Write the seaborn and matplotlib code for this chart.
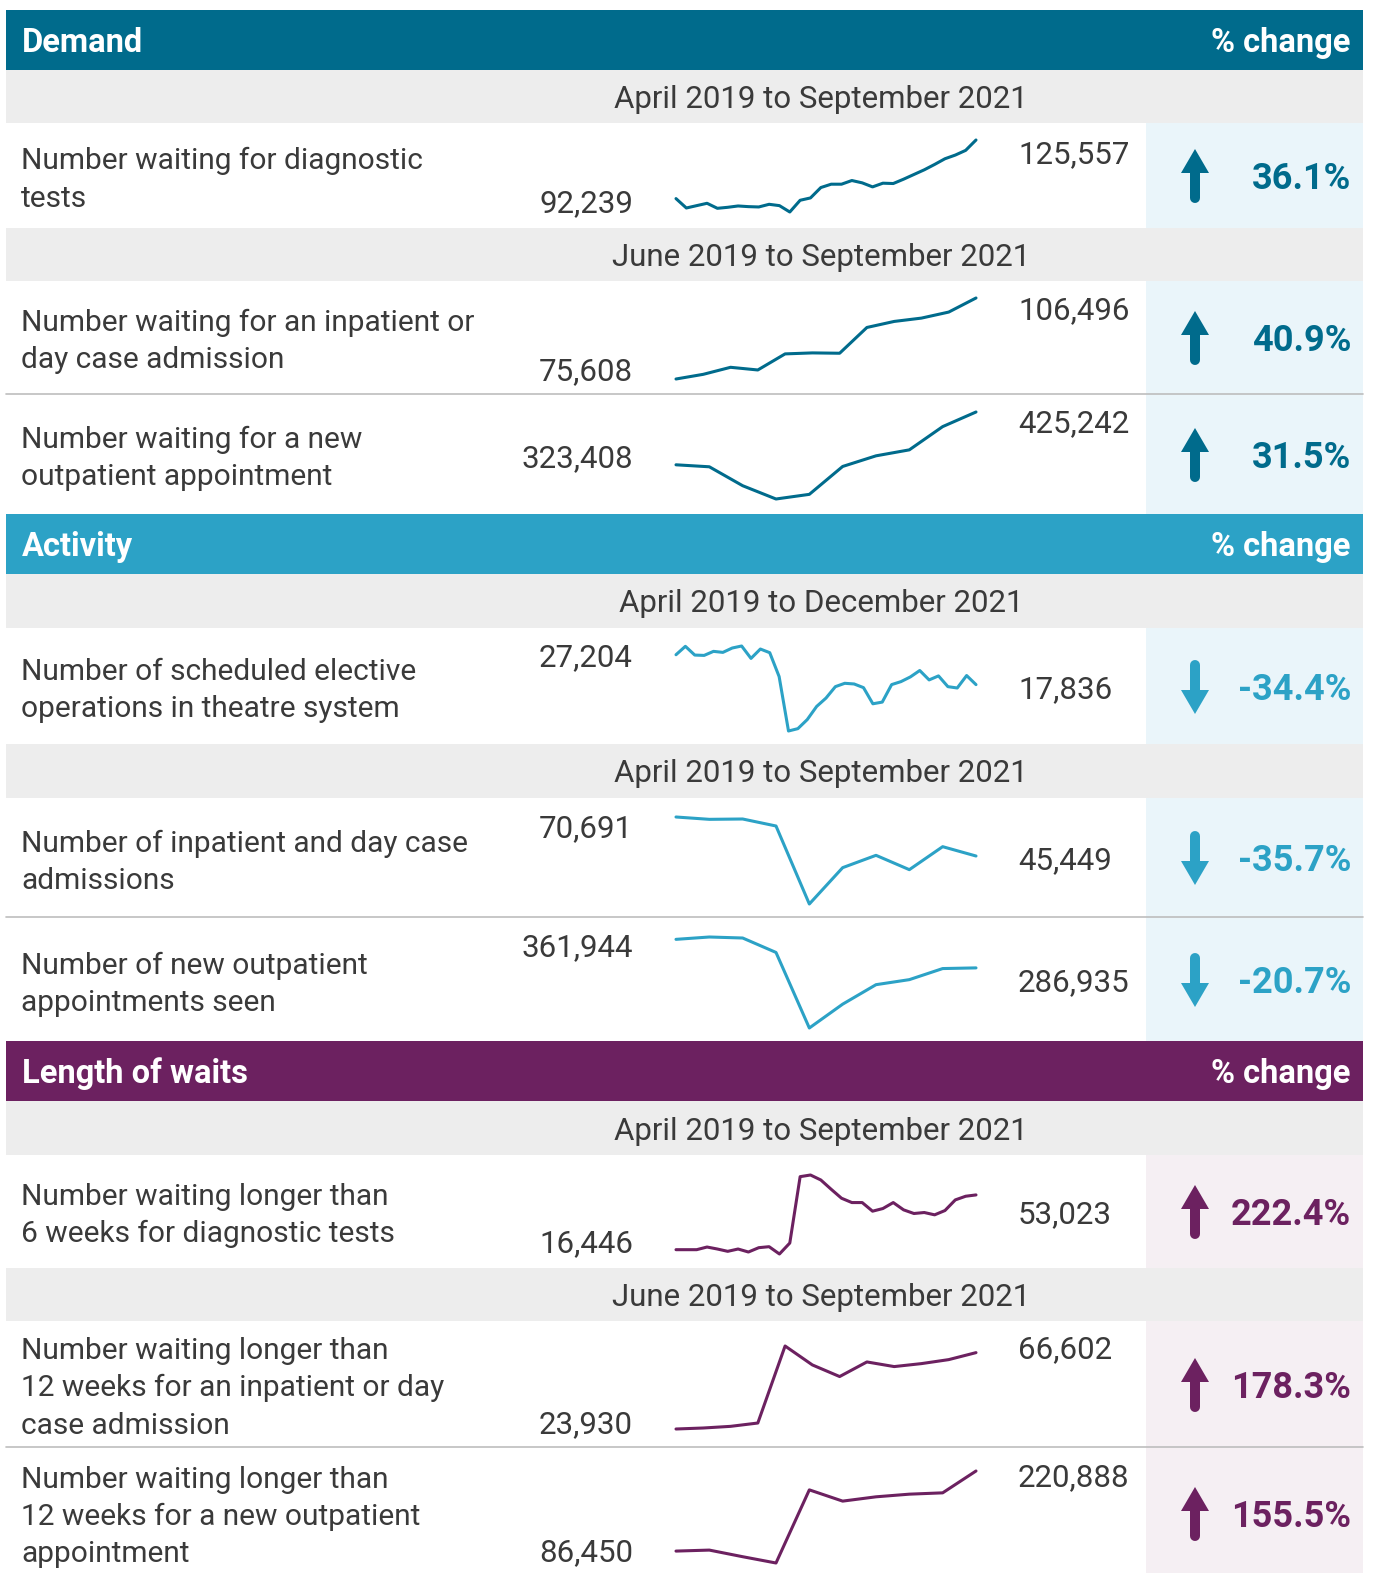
import matplotlib
matplotlib.use("Agg")
import matplotlib.pyplot as plt
import seaborn as sns
import numpy as np
import pandas as pd
from matplotlib.patches import Rectangle, Polygon

# ---------------- DATA ----------------
sections = ["Demand", "Activity", "Length of waits"]
change_header = "% change"
periods = ["April 2019 to September 2021", "June 2019 to September 2021",
           "April 2019 to December 2021", "April 2019 to September 2021",
           "April 2019 to September 2021", "June 2019 to September 2021"]

row_labels = [
    ["Number waiting for diagnostic", "tests"],
    ["Number waiting for an inpatient or", "day case admission"],
    ["Number waiting for a new", "outpatient appointment"],
    ["Number of scheduled elective", "operations in theatre system"],
    ["Number of inpatient and day case", "admissions"],
    ["Number of new outpatient", "appointments seen"],
    ["Number waiting longer than", "6 weeks for diagnostic tests"],
    ["Number waiting longer than", "12 weeks for an inpatient or day", "case admission"],
    ["Number waiting longer than", "12 weeks for a new outpatient", "appointment"],
]
pct_change = [36.1, 40.9, 31.5, -34.4, -35.7, -20.7, 222.4, 178.3, 155.5]

diag_wait = [92239, 86900, 88240, 89570, 86720, 87290, 88050, 87670, 87480, 89000,
             88240, 84620, 91290, 92620, 98520, 100430, 100430, 102520, 101190, 98900,
             101000, 100810, 103280, 105950, 108610, 111660, 114900, 116990, 119660, 125557]
inpatient_wait = [75608, 77390, 80070, 79050, 85180, 85560, 85430, 95260, 97560, 98830,
                  101130, 106496]
outpatient_wait = [323408, 319570, 283060, 257440, 266410, 320210, 340700, 352230,
                   397060, 425242]
elective_ops = [27204, 29840, 27100, 26990, 28260, 27940, 29310, 29940, 26050, 28990,
                27840, 20360, 3300, 4040, 6880, 10990, 13620, 17200, 18250, 18040,
                16890, 11830, 12360, 17840, 18780, 20250, 22260, 19310, 20570, 17200,
                16780, 20680, 17836]
inpatient_adm = [70691, 69180, 69400, 64870, 14390, 37910, 45890, 36610, 51490, 45449]
outpatient_seen = [361944, 368120, 365470, 327530, 128960, 191620, 242810, 256050,
                   285170, 286935]
diag_6wk = [16446, 16446, 16446, 18220, 16890, 15340, 16890, 14890, 17780, 18440,
            13560, 20880, 65220, 66330, 63000, 56790, 50810, 47920, 47920, 42160,
            43930, 47920, 43050, 40610, 41270, 39720, 42600, 49700, 52140, 53023]
inpatient_12wk = [23930, 24490, 25410, 27270, 70310, 59730, 53240, 61400, 58810, 60470,
                  62700, 66602]
outpatient_12wk = [86450, 88120, 77010, 66450, 189220, 170330, 177550, 182000, 184220,
                   220888]

series = [diag_wait, inpatient_wait, outpatient_wait, elective_ops, inpatient_adm,
          outpatient_seen, diag_6wk, inpatient_12wk, outpatient_12wk]

# ---------------- STYLE ----------------
sns.set_theme(style="white")
plt.rcParams['font.family'] = ['Roboto', 'DejaVu Sans']

W, H = 1373, 1573
C_DEMAND = "#006B8C"
C_ACT = "#2CA2C6"
C_WAIT = "#6C2160"
BOX = ["#EAF5FA", "#EAF5FA", "#F5EFF3"]
GREY = "#EDEDED"
TXT = "#3A3A3A"
SEP = "#BDBDBD"
sec_colors = [C_DEMAND, C_ACT, C_WAIT]

fig = plt.figure(figsize=(W / 100, H / 100), dpi=100)
bg = fig.add_axes([0, 0, 1, 1])
bg.set_xlim(0, W)
bg.set_ylim(H, 0)
bg.axis("off")

L, R = 6, 1363
BOXL = 1146

# section headers (y0, y1)
headers = [(10, 70), (514, 574), (1041, 1101)]
for i, (y0, y1) in enumerate(headers):
    bg.add_patch(Rectangle((L, y0), R - L, y1 - y0, color=sec_colors[i], lw=0))
    bg.text(22, (y0 + y1) / 2 + 3, sections[i], color="white", fontsize=23.5,
            fontweight="bold", va="center", ha="left")
    bg.text(1350, (y0 + y1) / 2 + 3, change_header, color="white", fontsize=23.5,
            fontweight="bold", va="center", ha="right")

# period sub-headers
subs = [(70, 123), (228, 281), (574, 628), (744, 798), (1101, 1155), (1268, 1321)]
for i, (y0, y1) in enumerate(subs):
    bg.add_patch(Rectangle((L, y0), R - L, y1 - y0, color=GREY, lw=0))
    bg.text(821, (y0 + y1) / 2 + 3, periods[i], color=TXT, fontsize=22.5,
            va="center", ha="center")

# rows: (y0, y1, section)
rows = [(123, 228, 0), (281, 394, 0), (394, 514, 0),
        (628, 744, 1), (798, 917, 1), (917, 1041, 1),
        (1155, 1268, 2), (1321, 1447, 2), (1447, 1573, 2)]
label_y = [[158, 196], [320, 357], [437, 474], [669, 706], [841, 878], [963, 1000],
           [1194, 1231], [1348, 1385, 1423], [1477, 1514, 1551]]
spark_box = [(140, 212), (298, 379), (412, 499), (646, 731), (817, 904), (937, 1028),
             (1175, 1254), (1346, 1429), (1471, 1563)]
start_y = [201, 369, 456, 655, 826, 945, 1241, 1422, 1550]
end_y = [152, 308, 421, 687, 858, 980, 1212, 1347, 1475]
pct_y = [176, 338, 455, 687, 858, 980, 1212, 1385, 1514]

for i, (y0, y1, s) in enumerate(rows):
    bg.add_patch(Rectangle((BOXL, y0), R - BOXL, y1 - y0, color=BOX[s], lw=0))
    for txt, yy in zip(row_labels[i], label_y[i]):
        bg.text(21, yy + 3, txt, color=TXT, fontsize=21.5,
                va="center", ha="left")
    vals = series[i]
    bg.text(633, start_y[i] + 3, f"{vals[0]:,}", color=TXT, fontsize=22.5,
            va="center", ha="right")
    bg.text(1018, end_y[i] + 3, f"{vals[-1]:,}", color=TXT, fontsize=22.5,
            va="center", ha="left")
    p = pct_change[i]
    bg.text(1351, pct_y[i] + 3, f"{p:.1f}%", color=sec_colors[s], fontsize=26,
            fontweight="bold", va="center", ha="right")
    # arrow
    cx, cy = 1195, pct_y[i]
    hh, hw, sw, half = 24, 14, 5, 27
    d = 1 if p > 0 else -1
    tip = cy - d * half
    base = tip + d * hh
    bg.add_patch(Polygon([(cx - hw, base), (cx, tip), (cx + hw, base)],
                         closed=True, color=sec_colors[s], lw=0))
    bg.plot([cx, cx], [base, cy + d * (half - sw)], color=sec_colors[s],
            lw=sw * 2 * 0.72, solid_capstyle="round")

# separators
for yy in [394, 917, 1447]:
    bg.plot([L, R], [yy, yy], color=SEP, lw=1.2)

# sparklines
X0, X1 = 676, 976
for i, (yt, yb) in enumerate(spark_box):
    s = rows[i][2]
    vals = series[i]
    df = pd.DataFrame({"t": np.arange(len(vals)), "v": vals})
    ax = fig.add_axes([X0 / W, 1 - yb / H, (X1 - X0) / W, (yb - yt) / H])
    sns.lineplot(data=df, x="t", y="v", ax=ax, color=sec_colors[s], lw=2.2)
    ax.set_xlim(0, len(vals) - 1)
    ax.set_ylim(min(vals), max(vals))
    ax.axis("off")
    for ln in ax.lines:
        ln.set_clip_on(False)
    ax.patch.set_alpha(0)

fig.savefig("out.png", dpi=100)
